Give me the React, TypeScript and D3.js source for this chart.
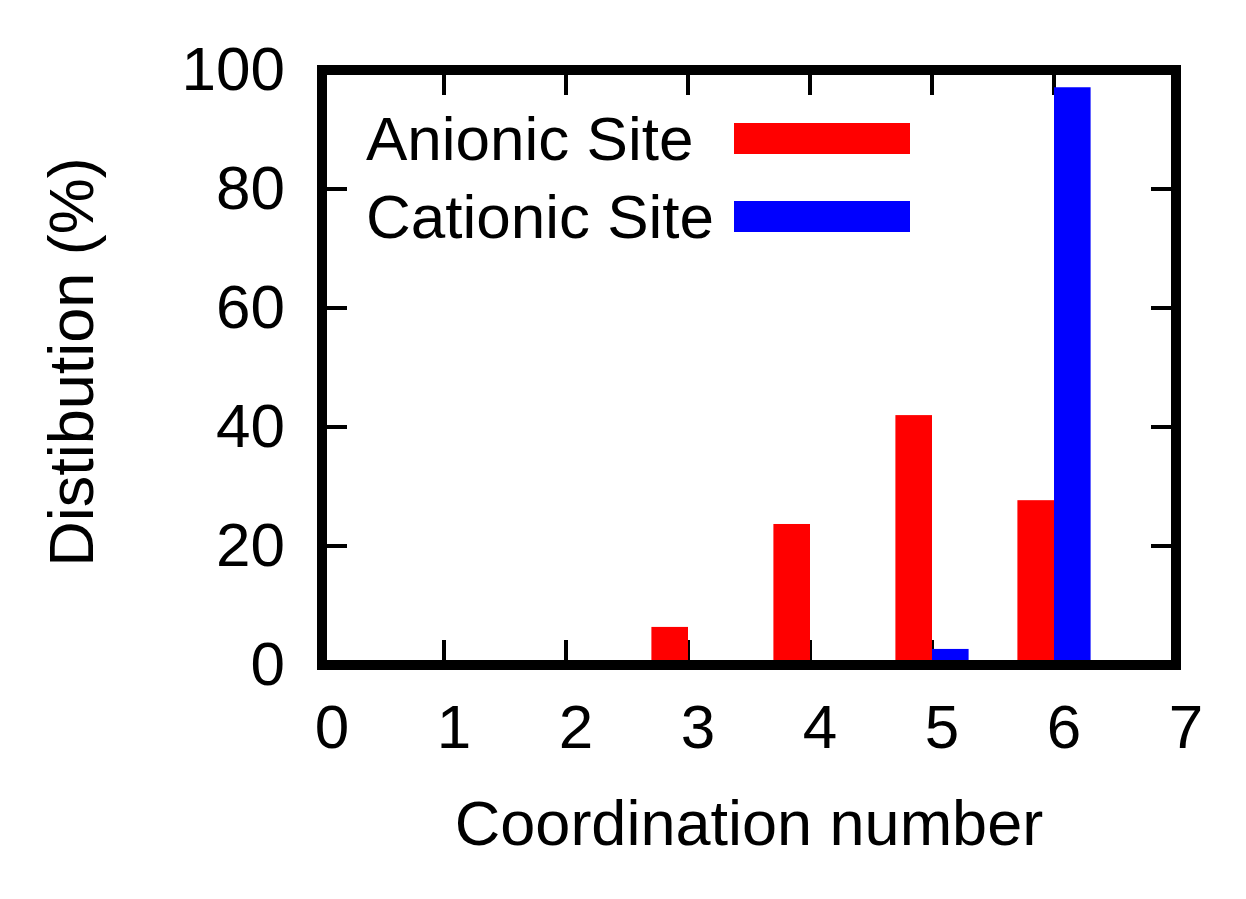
import {useEffect, useRef} from "react";
import * as d3 from "d3";

const coordination = [3, 4, 5, 6];
const anionic = [6.4, 23.7, 42.0, 27.7];
const cationic = [0, 0, 2.7, 97.1];
const xTicks = [0, 1, 2, 3, 4, 5, 6, 7];
const yTicks = [0, 20, 40, 60, 80, 100];
const seriesNames = ["Anionic Site", "Cationic Site"];

const W = 1246;
const H = 899;
const FONT = "'Liberation Sans', Arial, Helvetica, sans-serif";

const App = () => {
	const svgRef = useRef<SVGSVGElement>(null);

	useEffect(() => {
		const x = d3.scaleLinear().domain([0, 7]).range([322, 1176]);
		const y = d3.scaleLinear().domain([0, 100]).range([665, 70]);
		const barW = 0.3;

		const svg = d3.select(svgRef.current);
		svg.selectAll("*").remove();

		svg.append("rect").attr("width", W).attr("height", H).attr("fill", "#fff");

		// ticks on all four sides (mirrored)
		const tickLen = 25;
		const ticks = svg.append("g").attr("stroke", "#000").attr("stroke-width", 4);
		xTicks.slice(1, -1).forEach((t) => {
			ticks.append("line").attr("x1", x(t)).attr("x2", x(t)).attr("y1", y(0)).attr("y2", y(0) - tickLen);
			ticks.append("line").attr("x1", x(t)).attr("x2", x(t)).attr("y1", y(100)).attr("y2", y(100) + tickLen);
		});
		yTicks.slice(1, -1).forEach((t) => {
			ticks.append("line").attr("x1", x(0)).attr("x2", x(0) + tickLen).attr("y1", y(t)).attr("y2", y(t));
			ticks.append("line").attr("x1", x(7)).attr("x2", x(7) - tickLen).attr("y1", y(t)).attr("y2", y(t));
		});

		// bars
		svg.append("g")
			.selectAll("rect")
			.data(coordination.map((c, i) => ({c, v: anionic[i]})))
			.join("rect")
			.attr("x", (d) => x(d.c - barW))
			.attr("width", (d) => x(d.c) - x(d.c - barW))
			.attr("y", (d) => y(d.v))
			.attr("height", (d) => y(0) - y(d.v))
			.attr("fill", "#ff0000");

		svg.append("g")
			.selectAll("rect")
			.data(coordination.map((c, i) => ({c, v: cationic[i]})).filter((d) => d.v > 0))
			.join("rect")
			.attr("x", (d) => x(d.c))
			.attr("width", (d) => x(d.c + barW) - x(d.c))
			.attr("y", (d) => y(d.v))
			.attr("height", (d) => y(0) - y(d.v))
			.attr("fill", "#0000ff");

		// frame
		svg.append("rect")
			.attr("x", x(0))
			.attr("y", y(100))
			.attr("width", x(7) - x(0))
			.attr("height", y(0) - y(100))
			.attr("fill", "none")
			.attr("stroke", "#000")
			.attr("stroke-width", 10);

		// tick labels
		const fs = 62;
		svg.append("g")
			.selectAll("text")
			.data(xTicks)
			.join("text")
			.attr("x", (d) => x(d) + 10)
			.attr("y", 748)
			.attr("text-anchor", "middle")
			.attr("font-family", FONT)
			.attr("font-size", fs)
			.text((d) => d);

		svg.append("g")
			.selectAll("text")
			.data(yTicks)
			.join("text")
			.attr("x", 285)
			.attr("y", (d) => y(d) + 20)
			.attr("text-anchor", "end")
			.attr("font-family", FONT)
			.attr("font-size", fs)
			.text((d) => d);

		// axis titles
		svg.append("text")
			.attr("x", (x(0) + x(7)) / 2)
			.attr("y", 845)
			.attr("text-anchor", "middle")
			.attr("font-family", FONT)
			.attr("font-size", 63)
			.text("Coordination number");

		svg.append("text")
			.attr("transform", "translate(93,362) rotate(-90)")
			.attr("text-anchor", "middle")
			.attr("font-family", FONT)
			.attr("font-size", 63)
			.text("Distibution (%)");

		// legend
		const colors = ["#ff0000", "#0000ff"];
		seriesNames.forEach((name, i) => {
			const base = 160 + i * 78;
			svg.append("text")
				.attr("x", 366)
				.attr("y", base)
				.attr("font-family", FONT)
				.attr("font-size", fs)
				.text(name);
			svg.append("rect")
				.attr("x", 734)
				.attr("y", base - 37)
				.attr("width", 176)
				.attr("height", 31)
				.attr("fill", colors[i]);
		});
	}, []);

	return (
		<div style={{position: "absolute", left: 0, top: 0}}>
			<svg ref={svgRef} width={W} height={H} style={{display: "block"}}></svg>
		</div>
	);
};

export default App;
